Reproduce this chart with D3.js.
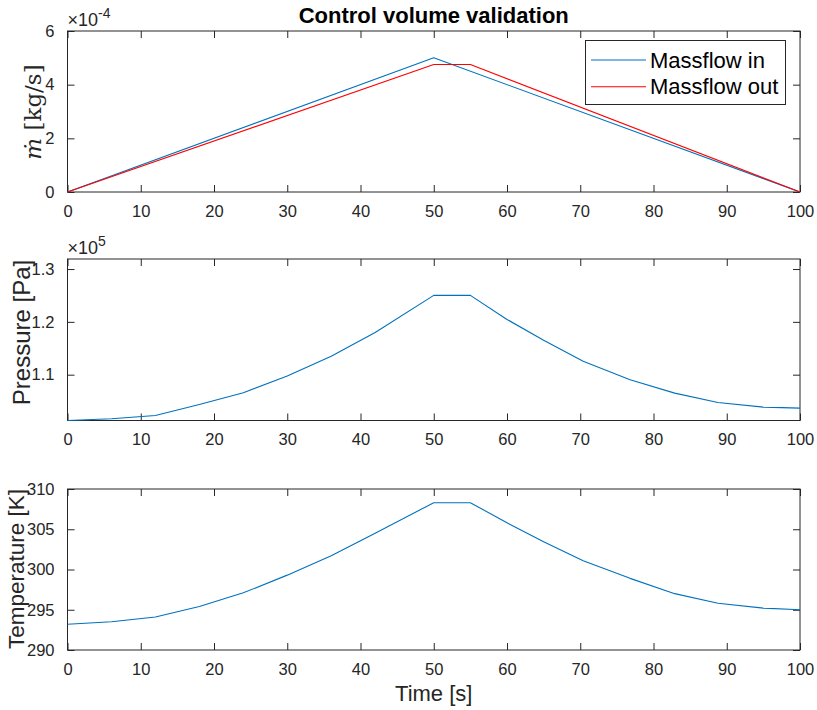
<!DOCTYPE html>
<html>
<head>
<meta charset="utf-8">
<script src="https://cdn.jsdelivr.net/npm/d3@7"></script>
<style>
  html, body { margin: 0; padding: 0; background: #fff; }
  svg { display: block; font-family: "Liberation Sans", Arial, Helvetica, sans-serif; }
</style>
</head>
<body>
<svg id="chart" width="817" height="710"></svg>
<script>
// Simulation time stamps and results of the control volume run
const timeFlow = [0, 50, 100];
const massflowIn = [0, 5.0e-4, 0];
const timeFlowOut = [0, 50, 55, 100];
const massflowOut = [0, 4.75e-4, 4.75e-4, 0];

const timeState = [0, 6, 12, 18, 24, 30, 36, 42, 50, 55, 60, 65, 70.4, 76.8, 82.9, 88.8, 95, 100];
const pressure = [101325, 101650, 102280, 104360, 106580, 109740, 113490, 117990, 125010, 125010,
                  120460, 116530, 112540, 109050, 106510, 104740, 103850, 103660];
const temperature = [293.2, 293.5, 294.1, 295.4, 297.1, 299.3, 301.7, 304.5, 308.3, 308.3,
                     305.8, 303.45, 301.1, 298.9, 297.0, 295.8, 295.2, 295.0];

const timeTicks = [0, 10, 20, 30, 40, 50, 60, 70, 80, 90, 100];
const flowTicks = [0, 2e-4, 4e-4, 6e-4];
const pressureTicks = [1.1e5, 1.2e5, 1.3e5];
const temperatureTicks = [290, 295, 300, 305, 310];

const legendLabels = ["Massflow in", "Massflow out"];
const blue = "#0072BD", red = "#FF0000", axisColor = "#262626";

const svg = d3.select("#chart");
const left = 67.5, right = 800;
const tickLen = 7;
const x = d3.scaleLinear().domain([0, 100]).range([left, right]);

function panel(top, bottom, yDomain, yTicks, yFmt) {
  const y = d3.scaleLinear().domain(yDomain).range([bottom, top]);
  const g = svg.append("g");
  // frame
  g.append("rect").attr("x", left).attr("y", top).attr("width", right - left).attr("height", bottom - top)
    .attr("fill", "none").attr("stroke", axisColor).attr("stroke-width", 1);
  // x ticks (bottom and top, pointing inward)
  const xa = g.append("g").attr("transform", `translate(0,${bottom})`)
    .call(d3.axisBottom(x).tickValues(timeTicks).tickSizeInner(-tickLen).tickSizeOuter(0).tickPadding(13));
  const xt = g.append("g").attr("transform", `translate(0,${top})`)
    .call(d3.axisTop(x).tickValues(timeTicks).tickSizeInner(-tickLen).tickSizeOuter(0).tickFormat(""));
  // y ticks (left and right, pointing inward)
  const ya = g.append("g").attr("transform", `translate(${left},0)`)
    .call(d3.axisLeft(y).tickValues(yTicks).tickSizeInner(-tickLen).tickSizeOuter(0).tickPadding(13).tickFormat(yFmt));
  const yr = g.append("g").attr("transform", `translate(${right},0)`)
    .call(d3.axisRight(y).tickValues(yTicks).tickSizeInner(-tickLen).tickSizeOuter(0).tickFormat(""));
  [xa, xt, ya, yr].forEach(a => {
    a.select(".domain").remove();
    a.selectAll("line").attr("stroke", axisColor);
    a.selectAll("text").attr("fill", axisColor).style("font-size", "16.5px")
      .style("font-family", "'Liberation Sans', Arial, sans-serif");
  });
  xa.selectAll("text").attr("dy", "0.71em");
  return { g, y };
}

function drawLine(p, xs, ys, color) {
  const line = d3.line().x((d, i) => x(xs[i])).y(d => p.y(d));
  p.g.append("path").datum(ys).attr("d", line).attr("fill", "none")
    .attr("stroke", color).attr("stroke-width", 1.1).attr("stroke-linejoin", "round");
}

function exponentLabel(yPos, base, exp) {
  const t = svg.append("text").attr("x", left).attr("y", yPos).attr("fill", axisColor)
    .style("font-size", "18px");
  t.append("tspan").text(base);
  t.append("tspan").attr("dy", -8).style("font-size", "14px").text(exp);
}

// --- Mass flow panel ---
const p1 = panel(31, 192, [0, 6e-4], flowTicks, d => d3.format("d")(Math.round(d / 1e-4)));
drawLine(p1, timeFlow, massflowIn, blue);
drawLine(p1, timeFlowOut, massflowOut, red);
exponentLabel(26, "×10", "-4");

// mass-flow label (math style)
const ml = svg.append("text").attr("transform", "translate(41,112) rotate(-90)")
  .attr("text-anchor", "middle").attr("fill", axisColor)
  .style("font-family", "'DejaVu Serif', 'Liberation Serif', serif").style("font-size", "23px");
ml.append("tspan").style("font-style", "italic").text("ṁ");
ml.append("tspan").text(" [kg/s]");

// legend
const lg = svg.append("g");
lg.append("rect").attr("x", 585.5).attr("y", 40.5).attr("width", 200).attr("height", 64)
  .attr("fill", "#fff").attr("stroke", axisColor).attr("stroke-width", 1);
[blue, red].forEach((c, i) => {
  const yy = 60 + i * 26.7;
  lg.append("line").attr("x1", 591).attr("x2", 646).attr("y1", yy).attr("y2", yy)
    .attr("stroke", c).attr("stroke-width", 1.1);
  lg.append("text").attr("x", 650).attr("y", yy).attr("dy", "0.35em").attr("fill", "#000")
    .style("font-size", "22px").text(legendLabels[i]);
});

// title
svg.append("text").attr("x", (left + right) / 2).attr("y", 22.5).attr("text-anchor", "middle")
  .attr("fill", "#000").style("font-size", "22px").style("font-weight", "bold")
  .text("Control volume validation");

// --- Pressure panel ---
const p2 = panel(259, 420.5, [101325, 131900], pressureTicks, d => d3.format(".1f")(d / 1e5));
drawLine(p2, timeState, pressure, blue);
exponentLabel(254, "×10", "5");
svg.append("text").attr("transform", "translate(30,332.5) rotate(-90)").attr("text-anchor", "middle")
  .attr("fill", axisColor).style("font-size", "24px").text("Pressure [Pa]");

// --- Temperature panel ---
const p3 = panel(489, 650, [290, 310], temperatureTicks, d3.format("d"));
drawLine(p3, timeState, temperature, blue);
svg.append("text").attr("transform", "translate(24,569) rotate(-90)").attr("text-anchor", "middle")
  .attr("fill", axisColor).style("font-size", "22.5px").text("Temperature [K]");

// x label
svg.append("text").attr("x", (left + right) / 2).attr("y", 701).attr("text-anchor", "middle")
  .attr("fill", axisColor).style("font-size", "22px").text("Time [s]");
</script>
</body>
</html>
